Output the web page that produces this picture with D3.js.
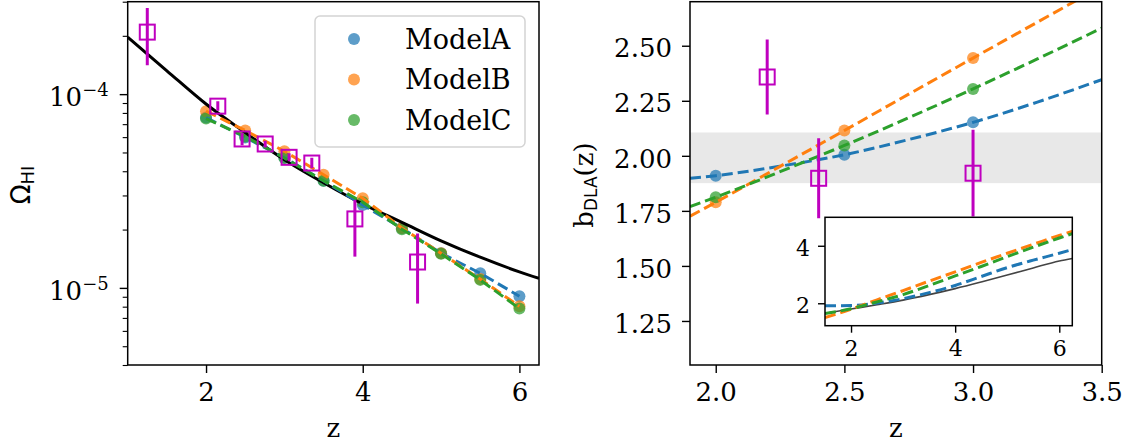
<!DOCTYPE html>
<html>
<head>
<meta charset="utf-8">
<script src="https://cdn.jsdelivr.net/npm/d3@7"></script>
<style>
  body { margin: 0; background: #fff; }
  svg { display: block; }
  .tick text { font-family: "DejaVu Serif", serif; fill: #000; }
</style>
</head>
<body>
<svg id="fig" width="1129" height="446"></svg>
<script>
// ---------------- data ----------------
// HI density parameter vs redshift
const zModels = [2.0, 2.5, 3.0, 3.5, 4.0, 4.5, 5.0, 5.5, 6.0];
const omegaA = [7.57e-5, 5.98e-5, 4.70e-5, 3.57e-5, 2.68e-5, 2.03e-5, 1.51e-5, 1.19e-5, 9.06e-6];
const omegaB = [8.17e-5, 6.49e-5, 5.07e-5, 3.84e-5, 2.90e-5, 2.04e-5, 1.51e-5, 1.11e-5, 8.04e-6];
const omegaC = [7.48e-5, 6.05e-5, 4.68e-5, 3.57e-5, 2.77e-5, 2.01e-5, 1.50e-5, 1.10e-5, 7.82e-6];

// reference fitting curve
const zOmegaFit = [1.0, 1.5, 2.0, 2.5, 3.0, 3.5, 4.0, 4.5, 5.0, 5.5, 6.0, 6.25];
const omegaFit = [1.97e-4, 1.32e-4, 8.89e-5, 6.33e-5, 4.59e-5, 3.49e-5, 2.71e-5, 2.18e-5, 1.75e-5, 1.44e-5, 1.21e-5, 1.12e-5];

// observational measurements
const zOmegaObs = [1.25, 2.15, 2.46, 2.755, 3.06, 3.35, 3.90, 4.70];
const omegaObs = [2.09e-4, 8.67e-5, 5.87e-5, 5.53e-5, 4.72e-5, 4.41e-5, 2.27e-5, 1.36e-5];
const omegaObsLo = [1.41e-4, 8.20e-5, 5.45e-5, 5.30e-5, 4.50e-5, 4.15e-5, 1.45e-5, 8.30e-6];
const omegaObsHi = [2.78e-4, 9.20e-5, 6.30e-5, 5.75e-5, 4.95e-5, 4.70e-5, 2.84e-5, 1.91e-5];

// DLA bias vs redshift
const zBias = [2.0, 2.5, 3.0];
const biasA = [1.910, 2.005, 2.152];
const biasB = [1.789, 2.115, 2.444];
const biasC = [1.812, 2.047, 2.304];

const zBiasFit = [1.9, 2.0, 2.25, 2.5, 2.75, 3.0, 3.25, 3.5];
const biasFitA = [1.898, 1.910, 1.953, 2.005, 2.074, 2.152, 2.244, 2.346];
const biasFitB = [1.726, 1.789, 1.952, 2.115, 2.280, 2.444, 2.607, 2.770];
const biasFitC = [1.769, 1.812, 1.928, 2.047, 2.173, 2.304, 2.440, 2.580];

const zBiasObs = [2.2, 2.4, 3.0];
const biasObs = [2.358, 1.898, 1.921];
const biasObsErr = [0.170, 0.182, 0.197];

const biasBand = [1.876, 2.106];

// inset: bias over the wider redshift range
const zInset = [1.5, 2.0, 2.5, 3.0, 3.5, 4.0, 4.5, 5.0, 5.5, 6.0, 6.25];
const insetA = [1.91, 1.92, 2.01, 2.16, 2.37, 2.62, 2.93, 3.24, 3.50, 3.74, 3.87];
const insetB = [1.50, 1.79, 2.12, 2.44, 2.77, 3.09, 3.42, 3.74, 4.05, 4.36, 4.50];
const insetC = [1.64, 1.81, 2.05, 2.30, 2.62, 2.95, 3.28, 3.62, 3.95, 4.27, 4.42];
const insetRef = [1.65, 1.80, 1.95, 2.11, 2.30, 2.51, 2.74, 2.98, 3.23, 3.47, 3.56];

const modelNames = ["ModelA", "ModelB", "ModelC"];
const colors = ["#1f77b4", "#ff7f0e", "#2ca02c"];
const magenta = "#bf00bf";

// ---------------- helpers ----------------
const svg = d3.select("#fig");
const SERIF = "DejaVu Serif, serif";
const SANS = "DejaVu Sans, sans-serif";
const FS = 26;

function styleAxis(g, fs) {
  g.select(".domain").remove();
  g.selectAll(".tick line").attr("stroke", "#000").attr("stroke-width", 1.4);
  g.selectAll(".tick text").style("font-size", fs + "px");
}

function zip(xs, ys) { return xs.map((x, i) => [x, ys[i]]); }

function dashedLine(g, x, y, pts, color, width, dash, curve) {
  const line = d3.line().x(d => x(d[0])).y(d => y(d[1])).curve(curve || d3.curveLinear);
  g.append("path").datum(pts)
    .attr("d", line)
    .attr("fill", "none")
    .attr("stroke", color)
    .attr("stroke-width", width)
    .attr("stroke-dasharray", dash);
}

function squares(g, xs, ys, lo, hi, x, y) {
  const s = 15;
  xs.forEach((zv, i) => {
    g.append("line")
      .attr("x1", x(zv)).attr("x2", x(zv))
      .attr("y1", y(lo[i])).attr("y2", y(hi[i]))
      .attr("stroke", magenta).attr("stroke-width", 3);
    g.append("rect")
      .attr("x", x(zv) - s / 2).attr("y", y(ys[i]) - s / 2)
      .attr("width", s).attr("height", s)
      .attr("fill", "none").attr("stroke", magenta).attr("stroke-width", 2);
  });
}

// ---------------- left panel: Omega_HI ----------------
const L = { x0: 127.7, x1: 539, y0: 1.7, y1: 365 };
const xL = d3.scaleLinear().domain([1.0, 6.25]).range([L.x0, L.x1]);
const yL = d3.scaleLog().domain([4e-6, 3e-4]).range([L.y1, L.y0]);

svg.append("clipPath").attr("id", "clipL")
  .append("rect").attr("x", L.x0).attr("y", L.y0).attr("width", L.x1 - L.x0).attr("height", L.y1 - L.y0);

const gL = svg.append("g").attr("clip-path", "url(#clipL)");

// model points
[omegaA, omegaB, omegaC].forEach((vals, k) => {
  gL.selectAll(null).data(zip(zModels, vals)).enter().append("circle")
    .attr("cx", d => xL(d[0])).attr("cy", d => yL(d[1])).attr("r", 6)
    .attr("fill", colors[k]).attr("fill-opacity", 0.72);
});

// reference curve
gL.append("path").datum(zip(zOmegaFit, omegaFit))
  .attr("d", d3.line().x(d => xL(d[0])).y(d => yL(d[1])).curve(d3.curveMonotoneX))
  .attr("fill", "none").attr("stroke", "#000").attr("stroke-width", 3);

// model connecting lines
[omegaA, omegaB, omegaC].forEach((vals, k) => {
  dashedLine(gL, xL, yL, zip(zModels, vals), colors[k], 3, "11,5");
});

squares(gL, zOmegaObs, omegaObs, omegaObsLo, omegaObsHi, xL, yL);

// frame
svg.append("rect").attr("x", L.x0).attr("y", L.y0).attr("width", L.x1 - L.x0).attr("height", L.y1 - L.y0)
  .attr("fill", "none").attr("stroke", "#000").attr("stroke-width", 1.5);

// x axis
const axLx = svg.append("g").attr("transform", `translate(0,${L.y1})`)
  .call(d3.axisBottom(xL).tickValues([2, 4, 6]).tickFormat(d3.format("d")).tickSize(8).tickPadding(10));
styleAxis(axLx, FS);

// y axis (log): minor ticks
const minorVals = yL.ticks().filter(v => Math.abs(Math.log10(v) - Math.round(Math.log10(v))) > 1e-6);
const axLminor = svg.append("g").attr("transform", `translate(${L.x0},0)`)
  .call(d3.axisLeft(yL).tickValues(minorVals).tickFormat("").tickSize(5));
styleAxis(axLminor, FS);
axLminor.selectAll(".tick line").attr("stroke-width", 1.1);

// y axis (log): decades
const majorVals = [1e-5, 1e-4];
const axLmajor = svg.append("g").attr("transform", `translate(${L.x0},0)`)
  .call(d3.axisLeft(yL).tickValues(majorVals).tickFormat("").tickSize(8).tickPadding(10));
styleAxis(axLmajor, FS);
axLmajor.selectAll(".tick").each(function (d) {
  const t = d3.select(this).append("text")
    .attr("x", -19).attr("dy", "0.45em")
    .attr("text-anchor", "end")
    .style("font-family", SERIF).style("font-size", FS + "px").attr("fill", "#000");
  t.append("tspan").text("10");
  t.append("tspan").attr("dy", "-10").style("font-size", "18px").text("\u2212" + Math.round(-Math.log10(d)));
});

// axis labels
svg.append("text").attr("x", (L.x0 + L.x1) / 2).attr("y", 437)
  .attr("text-anchor", "middle").style("font-family", SERIF).style("font-size", FS + "px").text("z");

const ylabL = svg.append("text").attr("transform", "translate(30,185) rotate(-90)")
  .attr("text-anchor", "middle").style("font-family", SANS).style("font-size", "26px");
ylabL.append("tspan").text("\u03A9");
ylabL.append("tspan").attr("dy", 4).style("font-size", "18px").text("HI");

// legend
const leg = svg.append("g");
leg.append("rect").attr("x", 315).attr("y", 16).attr("width", 210).attr("height", 131).attr("rx", 5)
  .attr("fill", "#fff").attr("fill-opacity", 0.8).attr("stroke", "#d4d4d4").attr("stroke-width", 1.5);
modelNames.forEach((name, k) => {
  const cy = 39 + k * 40.5;
  leg.append("circle").attr("cx", 354).attr("cy", cy).attr("r", 6)
    .attr("fill", colors[k]).attr("fill-opacity", 0.72);
  leg.append("text").attr("x", 405).attr("y", cy).attr("dy", "0.36em")
    .style("font-family", SERIF).style("font-size", "27px").text(name);
});

// ---------------- right panel: DLA bias ----------------
const R = { x0: 690, x1: 1101.7, y0: 1.7, y1: 365 };
const xR = d3.scaleLinear().domain([1.9, 3.5]).range([R.x0, R.x1]);
const yR = d3.scaleLinear().domain([1.05, 2.70]).range([R.y1, R.y0]);

svg.append("clipPath").attr("id", "clipR")
  .append("rect").attr("x", R.x0).attr("y", R.y0).attr("width", R.x1 - R.x0).attr("height", R.y1 - R.y0);
const gR = svg.append("g").attr("clip-path", "url(#clipR)");

// measured band
gR.append("rect").attr("x", R.x0).attr("width", R.x1 - R.x0)
  .attr("y", yR(biasBand[1])).attr("height", yR(biasBand[0]) - yR(biasBand[1]))
  .attr("fill", "#e8e8e8");

[biasA, biasB, biasC].forEach((vals, k) => {
  gR.selectAll(null).data(zip(zBias, vals)).enter().append("circle")
    .attr("cx", d => xR(d[0])).attr("cy", d => yR(d[1])).attr("r", 6)
    .attr("fill", colors[k]).attr("fill-opacity", 0.72);
});
[biasFitA, biasFitB, biasFitC].forEach((vals, k) => {
  dashedLine(gR, xR, yR, zip(zBiasFit, vals), colors[k], 3, "11,5", d3.curveMonotoneX);
});

squares(gR, zBiasObs, biasObs,
  biasObs.map((v, i) => v - biasObsErr[i]),
  biasObs.map((v, i) => v + biasObsErr[i]), xR, yR);

svg.append("rect").attr("x", R.x0).attr("y", R.y0).attr("width", R.x1 - R.x0).attr("height", R.y1 - R.y0)
  .attr("fill", "none").attr("stroke", "#000").attr("stroke-width", 1.5);

const axRx = svg.append("g").attr("transform", `translate(0,${R.y1})`)
  .call(d3.axisBottom(xR).tickValues([2.0, 2.5, 3.0, 3.5]).tickFormat(d3.format(".1f")).tickSize(8).tickPadding(10));
styleAxis(axRx, FS);

const axRy = svg.append("g").attr("transform", `translate(${R.x0},0)`)
  .call(d3.axisLeft(yR).tickValues([1.25, 1.50, 1.75, 2.00, 2.25, 2.50]).tickFormat(d3.format(".2f")).tickSize(8).tickPadding(10));
styleAxis(axRy, FS);
axRy.selectAll(".tick text").attr("dy", "0.43em");

svg.append("text").attr("x", (R.x0 + R.x1) / 2).attr("y", 437)
  .attr("text-anchor", "middle").style("font-family", SERIF).style("font-size", FS + "px").text("z");

const ylabR = svg.append("text").attr("transform", "translate(593,185) rotate(-90)")
  .attr("text-anchor", "middle").style("font-size", "26px");
ylabR.append("tspan").style("font-family", SERIF).text("b");
ylabR.append("tspan").attr("dy", 4).style("font-family", SANS).style("font-size", "17px").text("DLA");
ylabR.append("tspan").attr("dy", -4).style("font-family", SERIF).text("(z)");

// ---------------- inset ----------------
const I = { x0: 825, x1: 1072.3, y0: 217.3, y1: 325.7 };
const xI = d3.scaleLinear().domain([1.5, 6.25]).range([I.x0, I.x1]);
const yI = d3.scaleLinear().domain([1.22, 4.99]).range([I.y1, I.y0]);

svg.append("rect").attr("x", I.x0).attr("y", I.y0).attr("width", I.x1 - I.x0).attr("height", I.y1 - I.y0)
  .attr("fill", "#fff");
svg.append("clipPath").attr("id", "clipI")
  .append("rect").attr("x", I.x0).attr("y", I.y0).attr("width", I.x1 - I.x0).attr("height", I.y1 - I.y0);
const gI = svg.append("g").attr("clip-path", "url(#clipI)");

gI.append("path").datum(zip(zInset, insetRef))
  .attr("d", d3.line().x(d => xI(d[0])).y(d => yI(d[1])).curve(d3.curveMonotoneX))
  .attr("fill", "none").attr("stroke", "#444").attr("stroke-width", 1.6);
[insetA, insetB, insetC].forEach((vals, k) => {
  dashedLine(gI, xI, yI, zip(zInset, vals), colors[k], 3, "11,5", d3.curveMonotoneX);
});

svg.append("rect").attr("x", I.x0).attr("y", I.y0).attr("width", I.x1 - I.x0).attr("height", I.y1 - I.y0)
  .attr("fill", "none").attr("stroke", "#000").attr("stroke-width", 1.5);

const axIx = svg.append("g").attr("transform", `translate(0,${I.y1})`)
  .call(d3.axisBottom(xI).tickValues([2, 4, 6]).tickFormat(d3.format("d")).tickSize(7).tickPadding(8));
styleAxis(axIx, 22);
const axIy = svg.append("g").attr("transform", `translate(${I.x0},0)`)
  .call(d3.axisLeft(yI).tickValues([2, 4]).tickFormat(d3.format("d")).tickSize(7).tickPadding(8));
styleAxis(axIy, 22);
axIy.selectAll(".tick text").attr("dy", "0.43em");
</script>
</body>
</html>
